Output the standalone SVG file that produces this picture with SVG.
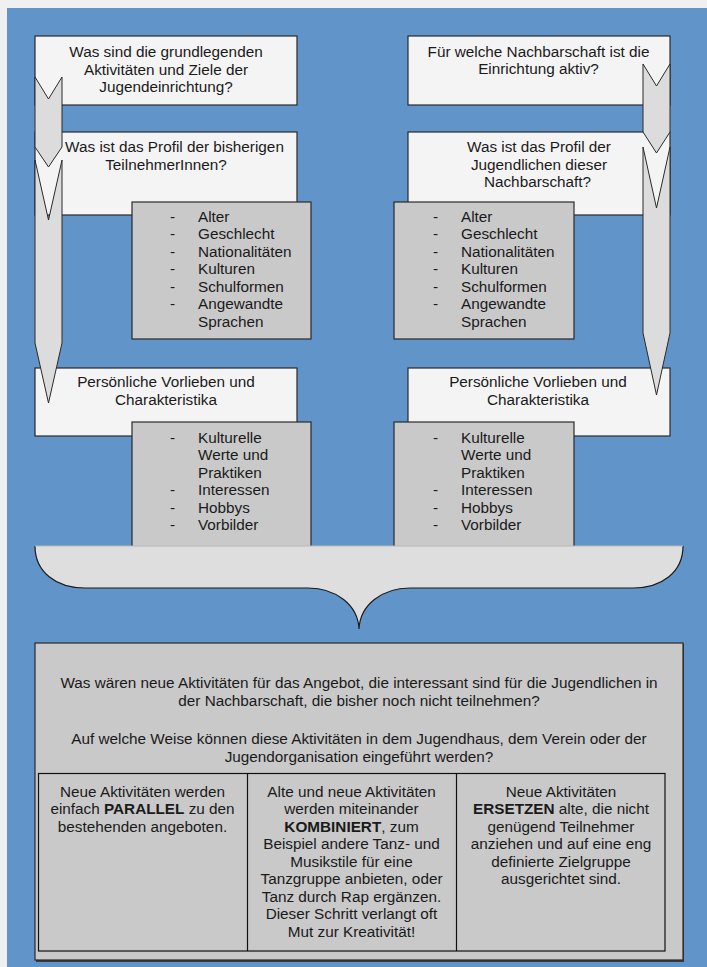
<svg xmlns="http://www.w3.org/2000/svg" width="707" height="967" viewBox="0 0 707 967">
<style>
text{font-family:"Liberation Sans",Arial,sans-serif;font-size:15.3px;fill:#1a1a1a}
.c{text-anchor:middle}
.b{font-weight:bold}
.wb{fill:#f4f4f4;stroke:#2a2a2a;stroke-width:1.2}
.gb{fill:#c9c9c9;stroke:#2a2a2a;stroke-width:1.2}
.ch{fill:#dcdcdc;stroke:#2a2a2a;stroke-width:1}
</style>
<rect x="0" y="0" width="707" height="967" fill="#f0f0f0"/>
<rect x="7" y="8" width="700" height="959" fill="#6194c8"/>

<g id="q1">
<rect class="wb" x="35" y="36" width="262" height="69"/>
<text class="c" x="166" y="57">Was sind die grundlegenden</text>
<text class="c" x="166" y="74.5">Aktivitäten und Ziele der</text>
<text class="c" x="166" y="92">Jugendeinrichtung?</text>
</g>
<g id="q2">
<rect class="wb" x="35" y="132" width="262" height="83"/>
<text class="c" x="174.5" y="152">Was ist das Profil der bisherigen</text>
<text class="c" x="166" y="169.5">TeilnehmerInnen?</text>
</g>
<g id="q3">
<rect class="wb" x="35" y="368" width="262" height="68"/>
<text class="c" x="166" y="387">Persönliche Vorlieben und</text>
<text class="c" x="166" y="405">Charakteristika</text>
</g>
<g id="r1">
<rect class="wb" x="408" y="36" width="262" height="69"/>
<text class="c" x="538.5" y="56.5">Für welche Nachbarschaft ist die</text>
<text class="c" x="538.5" y="74">Einrichtung aktiv?</text>
</g>
<g id="r2">
<rect class="wb" x="408" y="132" width="262" height="83"/>
<text class="c" x="539" y="152">Was ist das Profil der</text>
<text class="c" x="539" y="169.5">Jugendlichen dieser</text>
<text class="c" x="537.5" y="187">Nachbarschaft?</text>
</g>
<g id="r3">
<rect class="wb" x="408" y="368" width="262" height="68"/>
<text class="c" x="538" y="387">Persönliche Vorlieben und</text>
<text class="c" x="538" y="405">Charakteristika</text>
</g>

<g id="connectors">
<polygon class="ch" points="35,77 48.5,99 62,77 62,147 48.5,167 35,147"/>
<polygon class="ch" points="35,160 48.5,220 62,160 62,343 48.5,403 35,343"/>
<polygon class="ch" points="643,64 656.5,86 670,64 670,132 656.5,153 643,132"/>
<polygon class="ch" points="643,147 656.5,208 670,147 670,333 656.5,395 643,333"/>
</g>

<g id="list1">
<rect class="gb" x="132" y="202" width="179" height="137"/>
<text x="170" y="221.7">-</text><text x="198" y="221.7">Alter</text>
<text x="170" y="239.2">-</text><text x="198" y="239.2">Geschlecht</text>
<text x="170" y="256.7">-</text><text x="198" y="256.7">Nationalitäten</text>
<text x="170" y="274.2">-</text><text x="198" y="274.2">Kulturen</text>
<text x="170" y="291.7">-</text><text x="198" y="291.7">Schulformen</text>
<text x="170" y="309.2">-</text><text x="198" y="309.2">Angewandte</text>
<text x="198" y="326.7">Sprachen</text>
</g>
<g id="list2">
<rect class="gb" x="394" y="202" width="180" height="137"/>
<text x="433" y="221.7">-</text><text x="461" y="221.7">Alter</text>
<text x="433" y="239.2">-</text><text x="461" y="239.2">Geschlecht</text>
<text x="433" y="256.7">-</text><text x="461" y="256.7">Nationalitäten</text>
<text x="433" y="274.2">-</text><text x="461" y="274.2">Kulturen</text>
<text x="433" y="291.7">-</text><text x="461" y="291.7">Schulformen</text>
<text x="433" y="309.2">-</text><text x="461" y="309.2">Angewandte</text>
<text x="461" y="326.7">Sprachen</text>
</g>
<g id="list3">
<rect class="gb" x="132" y="422" width="179" height="140"/>
<text x="170" y="442.7">-</text><text x="198" y="442.7">Kulturelle</text>
<text x="198" y="460.2">Werte und</text>
<text x="198" y="477.7">Praktiken</text>
<text x="170" y="495.2">-</text><text x="198" y="495.2">Interessen</text>
<text x="170" y="512.7">-</text><text x="198" y="512.7">Hobbys</text>
<text x="170" y="530.2">-</text><text x="198" y="530.2">Vorbilder</text>
</g>
<g id="list4">
<rect class="gb" x="394" y="422" width="180" height="140"/>
<text x="433" y="442.7">-</text><text x="461" y="442.7">Kulturelle</text>
<text x="461" y="460.2">Werte und</text>
<text x="461" y="477.7">Praktiken</text>
<text x="433" y="495.2">-</text><text x="461" y="495.2">Interessen</text>
<text x="433" y="512.7">-</text><text x="461" y="512.7">Hobbys</text>
<text x="433" y="530.2">-</text><text x="461" y="530.2">Vorbilder</text>
</g>

<g id="brace">
<path d="M35,546 L683,546 C683,572 662,588 633,588 L410,588 C382,588 360,605 359,629 C358,605 336,588 308,588 L85,588 C56,588 35,572 35,546 Z" fill="#dedede" stroke="none"/>
<path d="M683,546 C683,572 662,588 633,588 L410,588 C382,588 360,605 359,629 C358,605 336,588 308,588 L85,588 C56,588 35,572 35,546" fill="none" stroke="#1a1a1a" stroke-width="1.2"/>
<line x1="35" y1="546" x2="683" y2="546" stroke="#b8b8b8" stroke-width="1"/>
</g>

<g id="result">
<rect x="36" y="644" width="648" height="318" fill="#3a3a3a"/>
<rect class="gb" x="35" y="643" width="648" height="317"/>
<text class="c" x="359" y="688">Was wären neue Aktivitäten für das Angebot, die interessant sind für die Jugendlichen in</text>
<text class="c" x="359" y="706">der Nachbarschaft, die bisher noch nicht teilnehmen?</text>
<text class="c" x="359" y="744">Auf welche Weise können diese Aktivitäten in dem Jugendhaus, dem Verein oder der</text>
<text class="c" x="359" y="762">Jugendorganisation eingeführt werden?</text>
<rect x="38.5" y="773.5" width="626.5" height="177.5" fill="none" stroke="#111" stroke-width="1.2"/>
<line x1="247.5" y1="773.5" x2="247.5" y2="951" stroke="#111" stroke-width="1.2"/>
<line x1="456.5" y1="773.5" x2="456.5" y2="951" stroke="#111" stroke-width="1.2"/>
</g>
<g id="opt1">
<text class="c" x="142.5" y="796.7">Neue Aktivitäten werden</text>
<text class="c" x="142.5" y="814.2">einfach <tspan class="b">PARALLEL</tspan> zu den</text>
<text class="c" x="142.5" y="831.7">bestehenden angeboten.</text>
</g>
<g id="opt2">
<text class="c" x="351.5" y="796.7">Alte und neue Aktivitäten</text>
<text class="c" x="351.5" y="814.2">werden miteinander</text>
<text class="c" x="351.5" y="831.7"><tspan class="b">KOMBINIERT</tspan>, zum</text>
<text class="c" x="351.5" y="849.2">Beispiel andere Tanz- und</text>
<text class="c" x="351.5" y="866.7">Musikstile für eine</text>
<text class="c" x="351.5" y="884.2">Tanzgruppe anbieten, oder</text>
<text class="c" x="351.5" y="901.7">Tanz durch Rap ergänzen.</text>
<text class="c" x="351.5" y="919.2">Dieser Schritt verlangt oft</text>
<text class="c" x="351.5" y="936.7">Mut zur Kreativität!</text>
</g>
<g id="opt3">
<text class="c" x="561" y="796.7">Neue Aktivitäten</text>
<text class="c" x="561" y="814.2"><tspan class="b">ERSETZEN</tspan> alte, die nicht</text>
<text class="c" x="561" y="831.7">genügend Teilnehmer</text>
<text class="c" x="561" y="849.2">anziehen und auf eine eng</text>
<text class="c" x="561" y="866.7">definierte Zielgruppe</text>
<text class="c" x="561" y="884.2">ausgerichtet sind.</text>
</g>
</svg>
